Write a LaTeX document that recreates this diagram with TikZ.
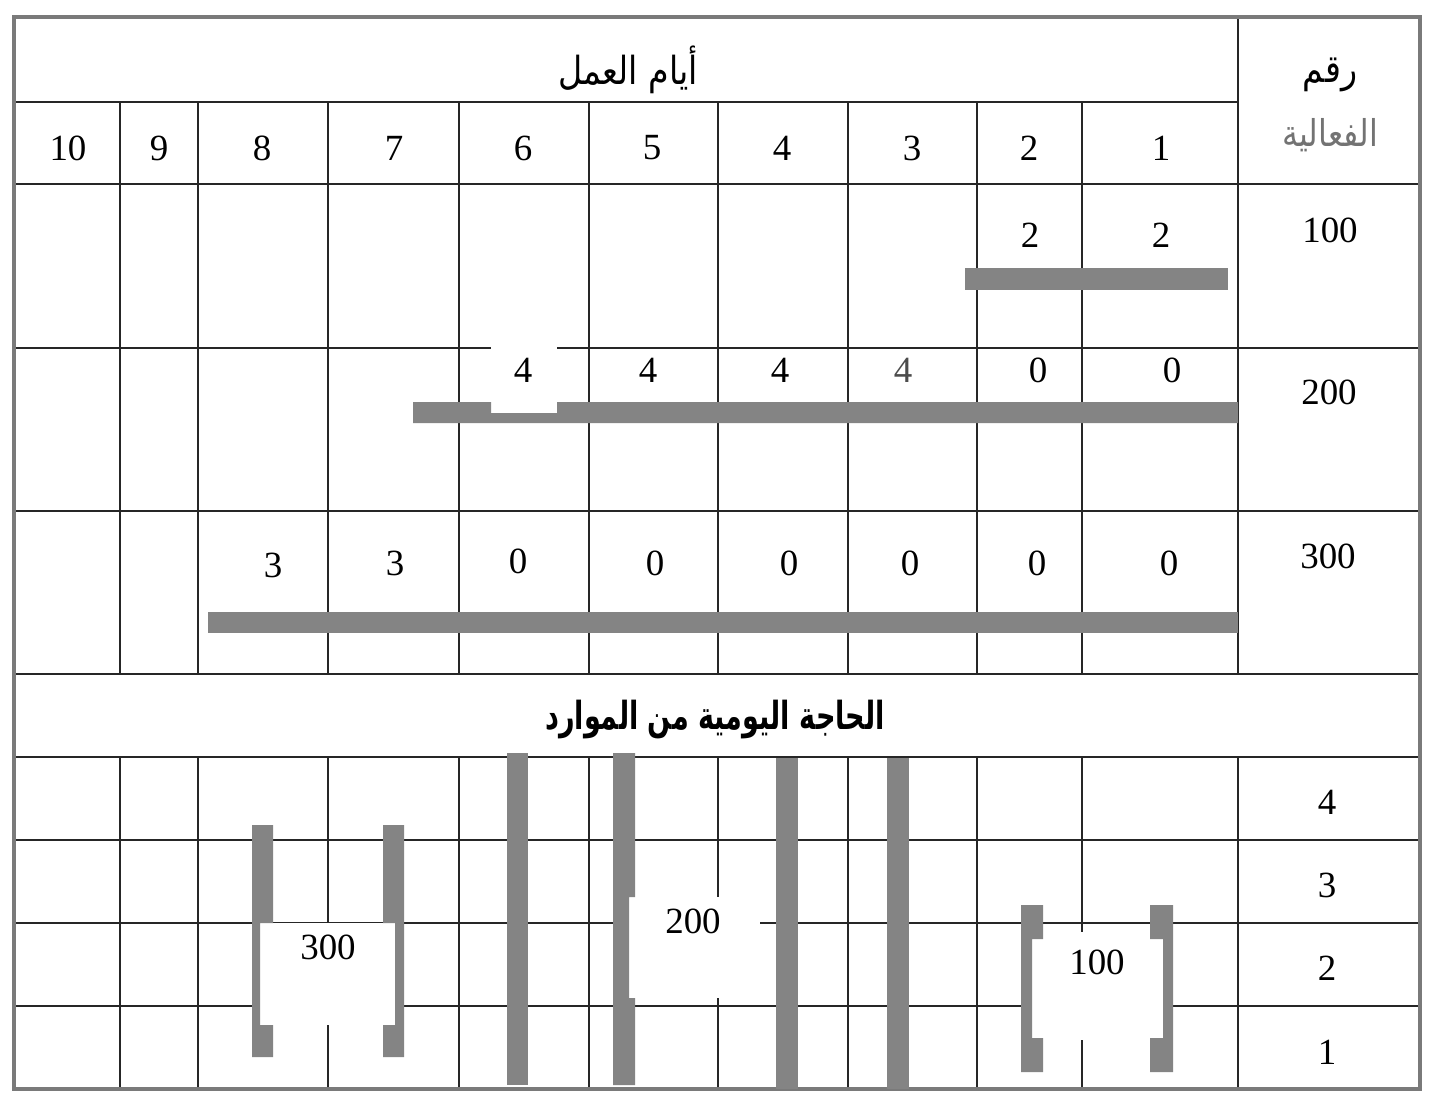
\documentclass[tikz,border=0pt]{standalone}
\usepackage{fontspec}
\setmainfont{Liberation Serif}
\newfontfamily\arabicfont[Script=Arabic, FakeStretch=0.86]{DejaVu Sans}
\newfontfamily\arabicnarrow[Script=Arabic, FakeStretch=0.7]{DejaVu Sans}
\TeXXeTstate=1
\usepackage{xcolor}
\usepackage{tikz}
\usetikzlibrary{positioning}
\definecolor{barfill}{HTML}{848484}
\definecolor{framegray}{HTML}{7A7A7A}

\begin{document}
\begin{tikzpicture}[
  x=0.01cm, y=-0.01cm,
  num/.style={font=\fontsize{10.5}{12}\selectfont, inner sep=0pt},
  arlabel/.style={font=\arabicfont\fontsize{10.5}{12}\selectfont, inner sep=0pt},
  gridln/.style={black!85, line width=0.45pt},
  frameln/.style={framegray, line width=1.3pt},
  bar/.style={fill=barfill, draw=none},
  blank/.style={fill=white, draw=none},
]
\useasboundingbox[fill=white] (0,0) rectangle (1441,1099);

% grid
\draw[gridln] (14,102) -- (1238,102);
\draw[gridln] (14,184) -- (1420,184);
\draw[gridln] (14,348) -- (1420,348);
\draw[gridln] (14,511) -- (1420,511);
\draw[gridln] (14,674) -- (1420,674);
\draw[gridln] (14,757) -- (1420,757);
\draw[gridln] (14,840) -- (1420,840);
\draw[gridln] (14,923) -- (1420,923);
\draw[gridln] (14,1006) -- (1420,1006);
\draw[gridln] (120,102) -- (120,674)  (120,757) -- (120,1089);
\draw[gridln] (198,102) -- (198,674)  (198,757) -- (198,1089);
\draw[gridln] (328,102) -- (328,674)  (328,757) -- (328,1089);
\draw[gridln] (459,102) -- (459,674)  (459,757) -- (459,1089);
\draw[gridln] (589,102) -- (589,674)  (589,757) -- (589,1089);
\draw[gridln] (718,102) -- (718,674)  (718,757) -- (718,1089);
\draw[gridln] (848,102) -- (848,674)  (848,757) -- (848,1089);
\draw[gridln] (977,102) -- (977,674)  (977,757) -- (977,1089);
\draw[gridln] (1082,102) -- (1082,674) (1082,757) -- (1082,1089);
\draw[gridln] (1238,17) -- (1238,674) (1238,757) -- (1238,1089);
\draw[frameln] (14,17) rectangle (1420,1089);

% gaps left blank round the labels
\fill[blank] (491,343) rectangle (557,412);
\fill[blank] (260,923) rectangle (395,1025);
\fill[blank] (629,897) rectangle (760,998);
\fill[blank] (1032,932) rectangle (1163,1040);

% activity bars
\fill[bar] (965,268) rectangle (1228,290);
\fill[bar] (413,402) -- (491,402) -- (491,413) -- (557,413) -- (557,402)
  -- (1238,402) -- (1238,423) -- (413,423) -- cycle;
\fill[bar] (208,612) rectangle (1238,633);

% resource bars
\fill[bar] (252,825) -- (273,825) -- (273,923) -- (260,923) -- (260,1025)
  -- (273,1025) -- (273,1057) -- (252,1057) -- cycle;
\fill[bar] (383,825) -- (404,825) -- (404,1057) -- (383,1057) -- (383,1025)
  -- (395,1025) -- (395,923) -- (383,923) -- cycle;
\fill[bar] (507,753) rectangle (528,1085);
\fill[bar] (613,753) -- (635,753) -- (635,897) -- (629,897) -- (629,998)
  -- (635,998) -- (635,1085) -- (613,1085) -- cycle;
\fill[bar] (776,758) rectangle (798,1089);
\fill[bar] (887,758) rectangle (909,1089);
\fill[bar] (1021,905) -- (1043,905) -- (1043,939) -- (1032,939) -- (1032,1038)
  -- (1043,1038) -- (1043,1072) -- (1021,1072) -- cycle;
\fill[bar] (1150,905) -- (1173,905) -- (1173,1072) -- (1150,1072) -- (1150,1038)
  -- (1163,1038) -- (1163,939) -- (1150,939) -- cycle;

% headers
\node[arlabel, font=\arabicfont\fontsize{11}{13}\selectfont] (days) at (628,70) {\beginR أيام العمل\endR};
\node[arlabel, font=\arabicfont\fontsize{11}{13}\selectfont] (actno) at (1330,75) {\beginR رقم\endR};
\node[arlabel, text=black!55] (actname) at (1330,135) {\beginR الفعالية\endR};
\node[arlabel, font=\arabicnarrow\bfseries\fontsize{11}{13}\selectfont] (need) at (715,720) {\beginR الحاجة اليومية من الموارد\endR};

% day numbers
\node[num] (d10) at (68,148) {10};
\node[num] (d9) at (159,148) {9};
\node[num] (d8) at (262,148) {8};
\node[num] (d7) at (394,148) {7};
\node[num] (d6) at (523,148) {6};
\node[num] (d5) at (652,148) {5};
\node[num] (d4) at (782,148) {4};
\node[num] (d3) at (912,148) {3};
\node[num] (d2) at (1029,148) {2};
\node[num] (d1) at (1161,148) {1};

% activities
\node[num] (a100) at (1330,230) {100};
\node[num] (a200) at (1329,392) {200};
\node[num] (a300) at (1328,556) {300};

\node[num] (r1d2) at (1030,235) {2};
\node[num] (r1d1) at (1161,235) {2};

\node[num] (r2d6) at (523,370) {4};
\node[num] (r2d5) at (648,370) {4};
\node[num] (r2d4) at (780,370) {4};
\node[num, text=black!70] (r2d3) at (903,370) {4};
\node[num] (r2d2) at (1038,370) {0};
\node[num] (r2d1) at (1172,370) {0};

\node[num] (r3d8) at (273,565) {3};
\node[num] (r3d7) at (395,563) {3};
\node[num] (r3d6) at (518,561) {0};
\node[num] (r3d5) at (655,563) {0};
\node[num] (r3d4) at (789,563) {0};
\node[num] (r3d3) at (910,563) {0};
\node[num] (r3d2) at (1037,563) {0};
\node[num] (r3d1) at (1169,563) {0};

% resource levels
\node[num] (lv4) at (1327,802) {4};
\node[num] (lv3) at (1327,885) {3};
\node[num] (lv2) at (1327,968) {2};
\node[num] (lv1) at (1327,1052) {1};

\node[num] (g300) at (328,947) {300};
\node[num] (g200) at (693,921) {200};
\node[num] (g100) at (1097,962) {100};
\end{tikzpicture}
\end{document}
